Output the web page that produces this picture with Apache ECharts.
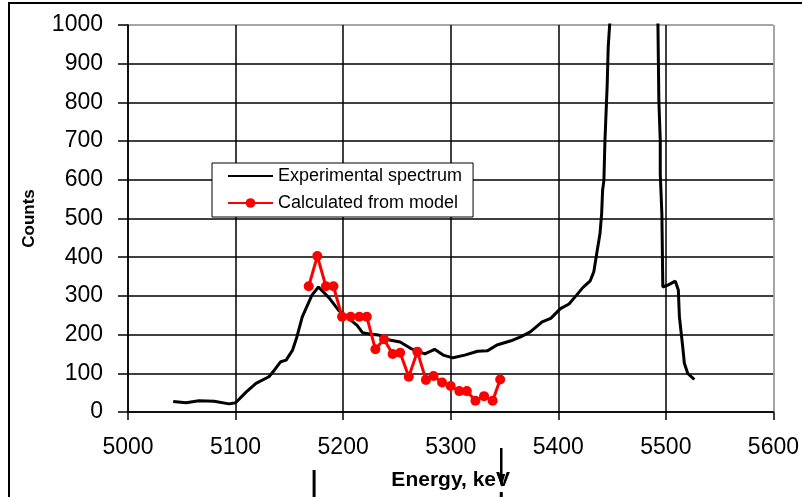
<!DOCTYPE html>
<html>
<head>
<meta charset="utf-8">
<script src="https://cdn.jsdelivr.net/npm/echarts@6/dist/echarts.min.js"></script>
<style>
html,body{margin:0;padding:0;background:#fff;}
#chart{width:802px;height:497px;}
</style>
</head>
<body>
<div id="chart"></div>
<script>
// ---- data ----
var experimentalEnergy = [5042,5054,5066,5080,5094,5100,5110,5119,5131,5136,5142,5147,5153,5157,5162,5171,5177,5187,5196,5205,5213,5218,5226,5233,5243,5253,5263,5276,5285,5293,5302,5313,5325,5334,5343,5356,5365,5374,5385,5393,5402,5410,5417,5423,5429.5,5433,5435.7,5438.8,5440.3,5441.2,5442.4,5443.4,5445.5,5446.4,5448,5470,5492.6,5493.5,5494.8,5494.8,5496.3,5497.2,5501.8,5508.8,5511.6,5512.6,5515.7,5517.2,5520.3,5526.5];
var experimentalCounts = [27,24,29,28,21,24,52,74,91,108,130,134,160,194,246,302,323,295,262,242,224,205,201,199,186,181,164,150,162,147,140,147,157,158,173,184,194,207,233,242,267,279,302,322,338,362,409,461,512,573,598,702,848,942,1011,3500,1011,805,702,616,512,323,328,338,315,246,168,126,100,84];
var modelEnergy = [5168,5176,5184,5191,5199,5207,5215,5222,5230,5238,5246,5253,5261,5269,5277,5284,5292,5300,5308,5315,5323,5331,5339,5346];
var modelCounts = [325,403,325,325,246,246,246,246,162,188,150,153,91,156,83,93,76,67,54,54,29,41,29,84];
var markerEnergies = [5173, 5347];
var seriesNames = ['Experimental spectrum', 'Calculated from model'];
var xMin = 5000, xMax = 5600, xStep = 100;
var yMin = 0, yMax = 1000, yStep = 100;

function pairs(xs, ys){ return xs.map(function(x,i){ return [x, ys[i]]; }); }

var FONT = '"Liberation Sans", Arial, sans-serif';
var chart = echarts.init(document.getElementById('chart'), null, {renderer:'canvas'});

var ySplitColors = [];
for (var v = yMin; v <= yMax; v += yStep) ySplitColors.push(v === yMax ? '#888888' : '#000000');
var xSplitColors = [];
for (var u = xMin; u <= xMax; u += xStep) xSplitColors.push(u === xMax ? '#888888' : '#000000');

chart.setOption({
  animation: false,
  backgroundColor: '#ffffff',
  grid: {left: 128, right: 24, top: 25, bottom: 85, containLabel: false},
  legend: {
    orient: 'vertical',
    left: 212, top: 163,
    backgroundColor: '#ffffff',
    borderColor: '#000000', borderWidth: 1, borderRadius: 0,
    padding: [4, 11, 5, 15],
    itemGap: 9,
    itemWidth: 45, itemHeight: 12,
    textStyle: {fontFamily: FONT, fontSize: 18, color: '#000'},
    data: [
      {name: seriesNames[0], itemStyle: {opacity: 0}},
      {name: seriesNames[1]}
    ]
  },
  xAxis: {
    type: 'value', min: xMin, max: xMax, interval: xStep,
    name: 'Energy, keV', nameLocation: 'middle', nameGap: 58,
    nameTextStyle: {fontFamily: FONT, fontSize: 21, fontWeight: 'bold', color: '#000'},
    axisLine: {show: true, onZero: false, lineStyle: {color: '#000', width: 1.5}},
    axisTick: {show: true, length: 8, lineStyle: {color: '#000', width: 1.5}},
    axisLabel: {fontFamily: FONT, fontSize: 23, color: '#000', margin: 24,
      formatter: function(val){ return String(val); }},
    splitLine: {show: true, lineStyle: {color: xSplitColors, width: 1.5}}
  },
  yAxis: {
    type: 'value', min: yMin, max: yMax, interval: yStep,
    name: 'Counts', nameLocation: 'middle', nameGap: 90, nameRotate: 90,
    nameTextStyle: {fontFamily: FONT, fontSize: 17, fontWeight: 'bold', color: '#000'},
    axisLine: {show: true, lineStyle: {color: '#000', width: 1.5}},
    axisTick: {show: true, length: 10, lineStyle: {color: '#000', width: 1.5}},
    axisLabel: {fontFamily: FONT, fontSize: 23, color: '#000', margin: 25,
      formatter: function(val){ return String(val); }},
    splitLine: {show: true, lineStyle: {color: ySplitColors, width: 1.5}}
  },
  series: [
    {
      name: seriesNames[0], type: 'line',
      data: pairs(experimentalEnergy, experimentalCounts),
      showSymbol: false, symbol: 'none', clip: true,
      lineStyle: {color: '#000', width: 3},
      itemStyle: {color: '#000'},
      z: 3
    },
    {
      name: seriesNames[1], type: 'line',
      data: pairs(modelEnergy, modelCounts),
      symbol: 'circle', symbolSize: 10, clip: true,
      lineStyle: {color: '#ff0000', width: 3},
      itemStyle: {color: '#ff0000'},
      z: 4
    }
  ]
});

// annotation marks below the axis, placed through the axis scale
var gx0 = chart.convertToPixel({xAxisIndex: 0}, markerEnergies[0]);
var gx1 = chart.convertToPixel({xAxisIndex: 0}, markerEnergies[1]);
chart.setOption({
  graphic: [
    {type: 'rect', shape: {x: 9, y: 3, width: 800, height: 500}, style: {fill: 'none', stroke: '#000', lineWidth: 2}, z: 100, silent: true},
    {type: 'line', shape: {x1: gx0, y1: 470, x2: gx0, y2: 497}, style: {stroke: '#000', lineWidth: 3}, z: 100},
    {type: 'line', shape: {x1: gx1, y1: 448, x2: gx1, y2: 482}, style: {stroke: '#000', lineWidth: 2.5}, z: 100},
    {type: 'polygon', shape: {points: [[gx1 - 4, 474], [gx1 + 4, 474], [gx1, 487]]}, style: {fill: '#000'}, z: 100},
    {type: 'line', shape: {x1: gx1, y1: 492, x2: gx1, y2: 497}, style: {stroke: '#000', lineWidth: 3}, z: 100}
  ]
});
</script>
</body>
</html>
